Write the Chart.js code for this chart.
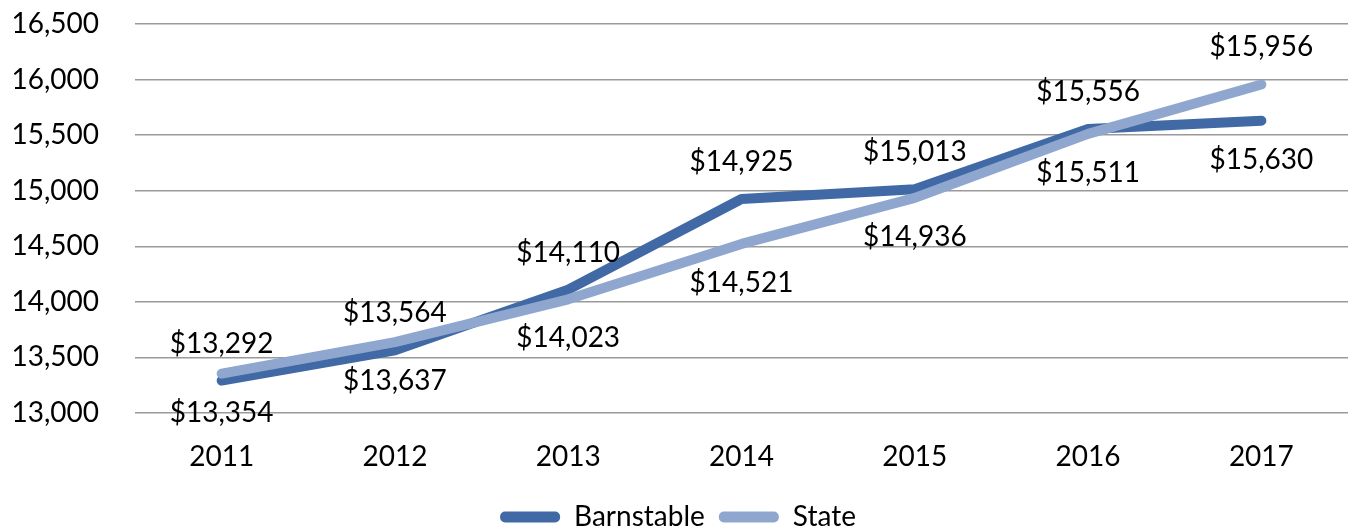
<!DOCTYPE html>
<html>
<head>
<meta charset="utf-8">
<script src="https://cdn.jsdelivr.net/npm/chart.js@4"></script>
<style>
  html, body { margin: 0; padding: 0; background: #fff; overflow: hidden; }
  #wrap { width: 1349px; height: 541px; position: relative; }
</style>
</head>
<body>
<div id="wrap"><canvas id="linechart"></canvas></div>
<script>
// data
const years = ['2011', '2012', '2013', '2014', '2015', '2016', '2017'];
const barnstable = [13292, 13564, 14110, 14925, 15013, 15556, 15630];
const stateAvg = [13354, 13637, 14023, 14521, 14936, 15511, 15956];
const yTicks = [13000, 13500, 14000, 14500, 15000, 15500, 16000, 16500];

const fontFamily = 'Lato, "Open Sans", sans-serif';
const fontSize = 28;

// value labels: Barnstable above the line, State below, swapped on the last year
const valueLabels = {
  id: 'valueLabels',
  afterDatasetsDraw(chart) {
    const ctx = chart.ctx;
    ctx.save();
    ctx.font = fontSize + 'px ' + fontFamily;
    ctx.fillStyle = '#000';
    ctx.textAlign = 'center';
    ctx.textBaseline = 'middle';
    chart.data.datasets.forEach((ds, i) => {
      const meta = chart.getDatasetMeta(i);
      meta.data.forEach((pt, j) => {
        let above = i === 0;
        if (j === meta.data.length - 1) above = !above;
        const dy = above ? -37 : 39;
        ctx.fillText('$' + ds.data[j].toLocaleString('en-US'), pt.x, pt.y + dy);
      });
    });
    ctx.restore();
  }
};

const ctx = document.getElementById('linechart').getContext('2d');
new Chart(ctx, {
  type: 'line',
  data: {
    labels: years,
    datasets: [
      { label: 'Barnstable', data: barnstable, borderColor: '#4169a5', backgroundColor: '#4169a5', borderWidth: 10, order: 1 },
      { label: 'State', data: stateAvg, borderColor: '#8fa7cf', backgroundColor: '#8fa7cf', borderWidth: 10, order: 0 }
    ]
  },
  options: {
    responsive: true,
    maintainAspectRatio: false,
    animation: false,
    layout: { padding: { left: 8, right: 1, top: 24, bottom: 0 } },
    elements: {
      line: { tension: 0, borderCapStyle: 'round', borderJoinStyle: 'round', fill: false },
      point: { radius: 0, hoverRadius: 0 }
    },
    scales: {
      x: {
        offset: true,
        grid: { display: false },
        border: { display: false },
        ticks: { color: '#000', padding: 19, font: { family: fontFamily, size: fontSize } },
        afterFit: (axis) => { axis.height = 76; }
      },
      y: {
        min: 13000,
        max: 16500,
        afterBuildTicks: (axis) => { axis.ticks = yTicks.map(v => ({ value: v })); },
        grid: { color: '#9a9a9a', lineWidth: 1.5, drawTicks: false },
        border: { display: false },
        ticks: { color: '#000', padding: 36, font: { family: fontFamily, size: fontSize }, callback: (v) => v.toLocaleString('en-US') },
        afterFit: (axis) => { axis.width = 127; axis.paddingTop = 0; axis.paddingBottom = 0; }
      }
    },
    plugins: {
      legend: {
        position: 'bottom',
        labels: {
          color: '#000',
          font: { family: fontFamily, size: fontSize },
          boxWidth: 60,
          boxHeight: 11,
          useBorderRadius: true,
          borderRadius: 5,
          padding: 14,
          sort: (a, b) => a.datasetIndex - b.datasetIndex,
          generateLabels: (chart) => Chart.defaults.plugins.legend.labels.generateLabels(chart)
            .map(item => Object.assign(item, { lineWidth: 0 }))
        }
      },
      tooltip: { enabled: false }
    }
  },
  plugins: [valueLabels]
});
</script>
</body>
</html>
